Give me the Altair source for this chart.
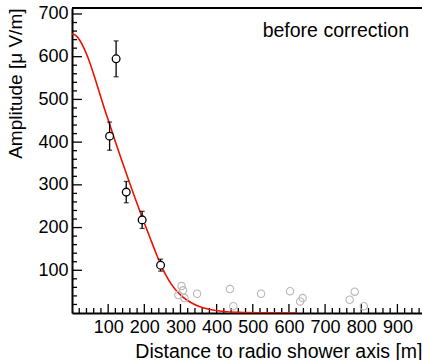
import altair as alt
import pandas as pd

# measured points (before correction)
dist = [104, 122, 150, 194, 245]
amp = [414, 595, 283, 218, 112]
err = [33, 42, 25, 20, 14]

# noise-level points (gray)
gray_dist = [294, 303, 307, 311, 346, 437, 446, 523, 603, 631, 638, 768, 782, 807]
gray_amp = [42, 63, 53, 35, 45, 56, 16, 45, 51, 27, 35, 31, 50, 16]

# fitted lateral distribution function
fit_dist = [0, 10, 21, 33, 44, 59, 74, 88, 104, 120, 136, 155, 173, 194, 215, 230,
            245, 260, 275, 290, 306, 330, 352, 382, 420, 463, 520, 623]
fit_amp = [653, 650, 639, 620, 598, 561, 521, 483, 442, 401, 361, 315, 272, 224, 178, 145,
           114, 88, 67, 51, 38, 24, 15, 8, 3.5, 1.5, 0.5, 0]

x_major = list(range(100, 1000, 100))
x_minor = [v for v in range(20, 968, 20) if v % 100 != 0]
y_major = list(range(100, 800, 100))
y_minor = [v for v in range(20, 714, 20) if v % 100 != 0]

FONT = "Liberation Sans"
W, H = 350, 305
xs = alt.Scale(domain=[0, 968], nice=False, zero=False)
ys = alt.Scale(domain=[0, 714], nice=False, zero=False)

xaxis = alt.Axis(values=x_major, title="Distance to radio shower axis [m]", ticks=False,
                 grid=False, domainWidth=2, domainColor="black", labelFontSize=18,
                 labelFont=FONT, labelColor="black", labelPadding=5,
                 titleFont=FONT, titleFontSize=19.5, titleFontWeight="normal",
                 titleColor="black", titleX=W, titleY=44, titleAlign="right",
                 titleBaseline="alphabetic", labelFlush=False, labelOverlap=False)
yaxis = alt.Axis(values=y_major, title="Amplitude [μ V/m]", ticks=False, grid=False,
                 domainWidth=2, domainColor="black", labelFontSize=18, labelFont=FONT,
                 labelColor="black", labelPadding=4, labelFlush=False, labelOverlap=False,
                 titleFont=FONT, titleFontSize=19, titleFontWeight="normal",
                 titleColor="black", titleX=-51, titleY=0, titleAngle=270,
                 titleAlign="right", titleBaseline="alphabetic")

def X(f):
    return alt.X(f"{f}:Q", scale=xs, axis=xaxis)

def Y(f):
    return alt.Y(f"{f}:Q", scale=ys, axis=yaxis)

df_pts = pd.DataFrame({"x": dist, "y": amp,
                       "lo": [a - e for a, e in zip(amp, err)],
                       "hi": [a + e for a, e in zip(amp, err)]})
df_gray = pd.DataFrame({"x": gray_dist, "y": gray_amp})
df_fit = pd.DataFrame({"x": fit_dist, "y": fit_amp})
df_xmaj = pd.DataFrame({"x": x_major})
df_xmin = pd.DataFrame({"x": x_minor})
df_ymaj = pd.DataFrame({"y": y_major})
df_ymin = pd.DataFrame({"y": y_minor})

fit = alt.Chart(df_fit).mark_line(color="#f01000", strokeWidth=1.6, interpolate="monotone", clip=True).encode(
    x=X("x"), y=Y("y"))

gray = alt.Chart(df_gray).mark_point(shape="circle", size=55, filled=False, color="#b8b8b8",
                                     strokeWidth=1.1, opacity=1).encode(x=X("x"), y=Y("y"))

ebar = alt.Chart(df_pts).mark_rule(color="black", strokeWidth=1.3).encode(
    x=X("x"), y=Y("lo"), y2="hi")
cap_lo = alt.Chart(df_pts).mark_tick(orient="horizontal", color="black", size=5, thickness=1.3).encode(
    x=X("x"), y=Y("lo"))
cap_hi = alt.Chart(df_pts).mark_tick(orient="horizontal", color="black", size=5, thickness=1.3).encode(
    x=X("x"), y=Y("hi"))
pts = alt.Chart(df_pts).mark_point(shape="circle", size=60, filled=True, fill="white", stroke="black",
                                   strokeWidth=1.3, opacity=1).encode(x=X("x"), y=Y("y"))

xtick_maj = alt.Chart(df_xmaj).mark_rule(color="black", strokeWidth=1.3).encode(
    x=X("x"), y=alt.value(H), y2=alt.value(H - 9))
xtick_min = alt.Chart(df_xmin).mark_rule(color="black", strokeWidth=1.3).encode(
    x=X("x"), y=alt.value(H), y2=alt.value(H - 5))
ytick_maj = alt.Chart(df_ymaj).mark_rule(color="black", strokeWidth=1.3).encode(
    y=Y("y"), x=alt.value(0), x2=alt.value(10))
ytick_min = alt.Chart(df_ymin).mark_rule(color="black", strokeWidth=1.3).encode(
    y=Y("y"), x=alt.value(0), x2=alt.value(5))

top_line = alt.Chart(df_xmaj.head(1)).mark_rule(color="black", strokeWidth=2).encode(
    x=alt.value(0), x2=alt.value(W), y=alt.value(0))

label = alt.Chart(df_xmaj.head(1)).mark_text(text="before correction", font=FONT, fontSize=19.5,
                                               align="right", baseline="alphabetic", color="black").encode(
    x=alt.value(337), y=alt.value(28.7))

chart = alt.layer(
    xtick_maj, xtick_min, ytick_maj, ytick_min, fit, gray, ebar, cap_lo, cap_hi, pts, top_line, label
).properties(
    width=W, height=H,
    autosize=alt.AutoSizeParams(type="none"),
    padding={"left": 72, "top": 8, "right": 0, "bottom": 47},
).configure_view(stroke=None).configure(background="white")

chart.save("out.html", embed_options={"renderer": "svg", "actions": False})
